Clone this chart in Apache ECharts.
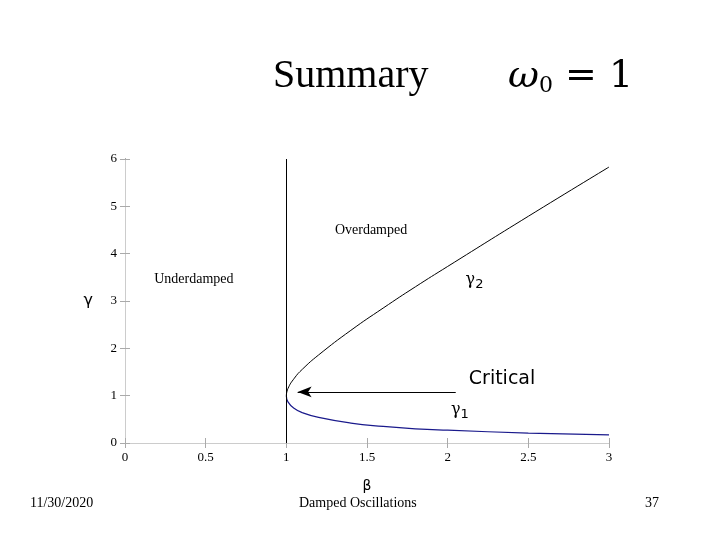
<!DOCTYPE html>
<html><head><meta charset="utf-8">
<script src="https://cdn.jsdelivr.net/npm/echarts@6/dist/echarts.min.js"></script>
<style>body{margin:0;background:#fff}#c{width:720px;height:540px}</style>
</head><body><div id="c"></div>
<script>
// values
const beta = [1, 1.01, 1.05, 1.1, 1.2, 1.4, 1.6, 1.8, 2, 2.5, 3];
const gamma2 = [1, 1.15, 1.37, 1.56, 1.86, 2.38, 2.85, 3.30, 3.73, 4.79, 5.83];
const gamma1 = [1, 0.87, 0.73, 0.64, 0.54, 0.42, 0.35, 0.30, 0.27, 0.21, 0.17];
const xTicks = [0, 0.5, 1, 1.5, 2, 2.5, 3];
const yTicks = [0, 1, 2, 3, 4, 5, 6];

let chart = echarts.init(document.getElementById('c'));
const tickFont = { fontFamily: 'Liberation Serif', fontSize: 13, color: '#000' };
const lab = (x, y, t, extra) => ({ value: [x, y], label: Object.assign({ show: true, formatter: t, color: '#000', fontFamily: 'Liberation Serif', fontSize: 14 }, extra || {}) });

chart.setOption({
    animation: false,
    grid: { left: 125, right: 111, top: 159, bottom: 97 },
    xAxis: [
        { type: 'value', min: 0, max: 3, interval: 0.5, axisLine: { lineStyle: { color: '#000' } },
          axisTick: { inside: true, length: 5, lineStyle: { color: '#aaa' } }, splitLine: { show: false },
          axisLabel: Object.assign({ margin: 8 }, tickFont),
          name: 'β', nameLocation: 'middle', nameGap: 36, nameTextStyle: { fontFamily: 'DejaVu Sans', fontSize: 14, color: '#000' } },
        { type: 'value', position: 'top', min: 0, max: 3, interval: 0.5, axisLine: { show: true, lineStyle: { color: '#ccc' } },
          axisTick: { inside: true, length: 5, lineStyle: { color: '#aaa' } }, axisLabel: { show: false }, splitLine: { show: false } }
    ],
    yAxis: [
        { type: 'value', min: 0, max: 6, interval: 1, axisLine: { show: true, lineStyle: { color: '#000' } },
          axisTick: { show: true, inside: true, length: 5, lineStyle: { color: '#aaa' } }, splitLine: { show: false },
          axisLabel: Object.assign({ margin: 8 }, tickFont),
          name: 'γ', nameLocation: 'middle', nameGap: 32, nameRotate: 0, nameTextStyle: { fontFamily: 'DejaVu Sans', fontSize: 16, color: '#000' } },
        { type: 'value', position: 'right', min: 0, max: 6, interval: 1, axisLine: { show: true, lineStyle: { color: '#ccc' } },
          axisTick: { show: true, inside: true, length: 5, lineStyle: { color: '#aaa' } }, axisLabel: { show: false }, splitLine: { show: false } }
    ],
    series: [
        { type: 'line', data: beta.map((b, i) => [b, gamma2[i]]), smooth: true, symbol: 'none',
          lineStyle: { color: '#000', width: 1 },
          markLine: { silent: true, symbol: ['none', 'none'], label: { show: false },
            lineStyle: { color: '#000', width: 1, type: 'solid' },
            data: [[{ coord: [1, 0] }, { coord: [1, 6] }]] } },
        { type: 'line', data: beta.map((b, i) => [b, gamma1[i]]), smooth: true, symbol: 'none',
          lineStyle: { color: '#1a1a8c', width: 1.2 },
          markLine: { silent: true, symbol: ['none', 'arrow'], symbolSize: [8, 14], label: { show: false },
            lineStyle: { color: '#000', width: 1.2, type: 'solid' },
            data: [[{ coord: [2.05, 1.08] }, { coord: [1.07, 1.08] }]] } },
        { type: 'scatter', symbolSize: 0, silent: true, itemStyle: { opacity: 1 }, data: [
            lab(0.15, 3.45, 'Underdamped', { position: 'right' }),
            lab(1.27, 4.5, 'Overdamped', { position: 'right' }),
            lab(2.08, 3.45, '{a|γ}{b|2}', { position: 'right', rich: { a: { fontFamily: 'DejaVu Serif', fontSize: 16 }, b: { fontFamily: 'DejaVu Sans', fontSize: 13, padding: [10, 0, 0, 0] } } }),
            lab(2.1, 1.35, 'Critical', { position: 'right', fontFamily: 'DejaVu Sans', fontSize: 19 }),
            lab(1.99, 0.7, '{a|γ}{b|1}', { position: 'right', rich: { a: { fontFamily: 'DejaVu Serif', fontSize: 16 }, b: { fontFamily: 'DejaVu Sans', fontSize: 13, padding: [10, 0, 0, 0] } } })
        ] }
    ],
    graphic: [
        { type: 'text', left: 273, top: 56, style: { text: 'Summary', font: '40px "Liberation Serif"', fill: '#000' } },
        { type: 'text', left: 508, top: 58, style: { text: '{a|ω}{b|0}{c| = 1}', fill: '#000',
            rich: { a: { font: 'italic 38px "DejaVu Serif"' }, b: { font: '22px "DejaVu Serif"', padding: [18, 0, 0, 0] }, c: { font: '38px "DejaVu Serif"' } } } },
        { type: 'text', left: 30, top: 496, style: { text: '11/30/2020', font: '14px "Liberation Serif"', fill: '#000' } },
        { type: 'text', left: 299, top: 496, style: { text: 'Damped Oscillations', font: '14px "Liberation Serif"', fill: '#000' } },
        { type: 'text', left: 645, top: 496, style: { text: '37', font: '14px "Liberation Serif"', fill: '#000' } }
    ]
});
</script></body></html>
